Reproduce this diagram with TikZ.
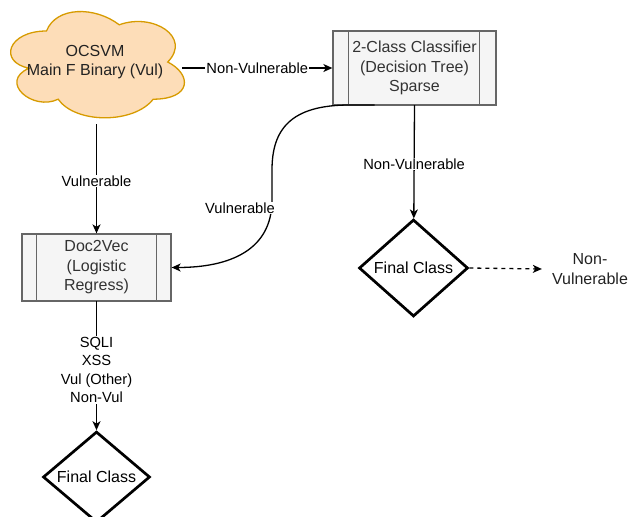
\documentclass[tikz,border=0pt]{standalone}
\usepackage{fontspec}
\setmainfont{Liberation Sans}
\usetikzlibrary{arrows.meta,shapes.geometric}
\definecolor{cloudfill}{HTML}{FDDDB8}
\definecolor{cloudline}{HTML}{D79B00}
\definecolor{procfill}{HTML}{F5F5F5}
\definecolor{procline}{HTML}{666666}
\definecolor{proctext}{HTML}{333333}
\definecolor{inktext}{HTML}{222222}
\begin{document}
\begin{tikzpicture}[x=1pt,y=-1pt,
  nodefont/.style={font=\fontsize{16}{19.5}\selectfont},
  proc/.style={draw=procline, fill=procfill, line width=1.3pt, text=proctext,
    nodefont, align=center, inner sep=0pt},
  sidebar/.style={draw=procline, line width=1.3pt},
  flow/.style={line width=1.3pt, -{Stealth[length=9pt,width=8pt,inset=2.5pt]}},
  lbl/.style={fill=white, font=\fontsize{14.7}{18.5}\selectfont, align=center,
    inner sep=1pt, text=black},
  decision/.style={draw, diamond, line width=2.7pt, nodefont, inner sep=0pt}]
\useasboundingbox (0,0) rectangle (635,517);

% cloud-shaped start node
\draw[fill=cloudfill, draw=cloudline, line width=1.3pt]
  (46.5,31) .. controls (7.7,31) and (-2,62) .. (29.04,68.2)
  .. controls (-2,81.84) and (32.92,111.6) .. (58.14,99.2)
  .. controls (75.6,124) and (133.8,124) .. (153.2,99.2)
  .. controls (192,99.2) and (192,74.4) .. (167.75,62)
  .. controls (192,37.2) and (153.2,12.4) .. (119.25,24.8)
  .. controls (95,6.2) and (56.2,6.2) .. (46.5,31) -- cycle;
\node[minimum width=174pt, minimum height=124pt, inner sep=0pt, nodefont,
  align=center, text=inktext] (ocsvm) at (95,62) {OCSVM\\Main F Binary (Vul)};

% process boxes with side bars
\node[proc, minimum width=163pt, minimum height=74pt] (cls) at (414.5,68)
  {2-Class Classifier\\(Decision Tree)\\Sparse};
\draw[sidebar] ([xshift=16pt]cls.north west) -- ([xshift=16pt]cls.south west);
\draw[sidebar] ([xshift=-17pt]cls.north east) -- ([xshift=-17pt]cls.south east);

\node[proc, minimum width=149pt, minimum height=67pt] (d2v) at (96.5,267.5)
  {Doc2Vec\\(Logistic\\Regress)};
\draw[sidebar] ([xshift=15pt]d2v.north west) -- ([xshift=15pt]d2v.south west);
\draw[sidebar] ([xshift=-15pt]d2v.north east) -- ([xshift=-15pt]d2v.south east);

% decisions
\node[decision, minimum width=109pt, minimum height=97pt] (fcR) at (413.5,268) {Final Class};
\node[decision, minimum width=107pt, minimum height=82pt] (fcL) at (96.5,477) {Final Class};

% outcome text
\node[nodefont, align=center, inner sep=0pt, text=inktext] (nv) at (590,269) {Non-\\Vulnerable};

% connectors
\draw[flow] (ocsvm.east |- cls) -- node[lbl] {Non-Vulnerable} (cls);
\draw[flow] (ocsvm.south -| d2v) -- node[lbl, pos=0.52] {Vulnerable} (d2v);
\draw[flow] (cls) ++(0,37) coordinate (clsS) (clsS) -- node[lbl, pos=0.52] {Non-Vulnerable} (fcR);
\draw[flow] (d2v) ++(0,33.5) coordinate (d2vS) (d2vS) -- node[lbl, pos=0.535]
  {SQLI\\XSS\\Vul (Other)\\Non-Vul} (fcL);
\draw[line width=1.3pt, dash pattern=on 4pt off 4pt, -{Stealth[length=9pt,width=8pt,inset=2.5pt]}]
  (fcR.east) -- ([xshift=-10pt]nv.west);
\coordinate (curveStart) at ([xshift=-40pt]clsS);
\draw[flow] (curveStart) -- ++(-25,0)
  .. controls (290,105) and (272,130) .. (272,170) -- (272,200)
  .. controls (272,250) and (230,267.5) .. (d2v.east);
\node[lbl] at (240,208) {Vulnerable};
\end{tikzpicture}
\end{document}
